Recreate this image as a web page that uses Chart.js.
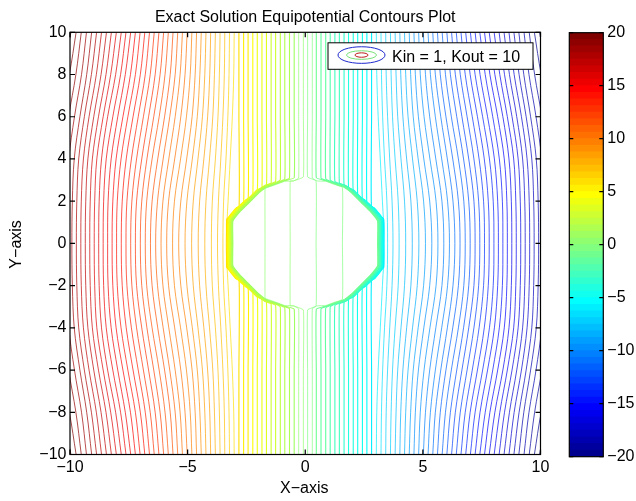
<!DOCTYPE html>
<html>
<head>
<meta charset="utf-8">
<script src="https://cdn.jsdelivr.net/npm/chart.js"></script>
<style>
  body { margin: 0; background: #fff; }
  #wrap { position: relative; width: 636px; height: 501px; }
  #wrap canvas { position: absolute; top: 0; }
</style>
</head>
<body>
<div id="wrap">
  <canvas id="contourChart" width="636" height="501" style="left:0"></canvas>
  <canvas id="colorbar" width="96" height="501" style="left:540px"></canvas>
</div>
<script>
// Contour lines that stay outside the inclusion, left half (the right half mirrors it).
const outerY = [10, 8, 6, 4, 2, 0];
const outerLevels = [19.8, 19.4, 19.0, 18.6, 18.2, 17.8, 17.4, 17.0, 16.6, 16.2, 15.8, 15.4, 15.0, 14.6, 14.2, 13.8, 13.4, 13.0, 12.6, 12.2, 11.8, 11.4, 11.0, 10.6, 10.2, 9.8, 9.4, 9.0, 8.6, 8.2, 7.8, 7.4, 7.0, 6.6, 6.2];
const outerX10 = [-9.96, -9.74, -9.52, -9.30, -9.08, -8.87, -8.66, -8.45, -8.24, -8.03, -7.82, -7.62, -7.42, -7.22, -7.02, -6.82, -6.62, -6.42, -6.22, -6.02, -5.82, -5.62, -5.42, -5.22, -5.02, -4.82, -4.62, -4.42, -4.22, -4.02, -3.82, -3.62, -3.42, -3.22, -3.02];
const outerX8 = [-10.30, -10.03, -9.75, -9.51, -9.29, -9.09, -8.88, -8.68, -8.47, -8.27, -8.06, -7.85, -7.65, -7.43, -7.22, -7.01, -6.80, -6.59, -6.38, -6.17, -5.96, -5.74, -5.53, -5.32, -5.11, -4.89, -4.68, -4.48, -4.27, -4.06, -3.86, -3.65, -3.44, -3.24, -3.04];
const outerX6 = [-10.70, -10.44, -10.06, -9.81, -9.58, -9.39, -9.19, -8.99, -8.79, -8.59, -8.40, -8.18, -7.97, -7.75, -7.54, -7.32, -7.10, -6.88, -6.66, -6.44, -6.21, -5.98, -5.76, -5.53, -5.29, -5.05, -4.81, -4.59, -4.37, -4.15, -3.93, -3.71, -3.50, -3.29, -3.10];
const outerX4 = [-11.00, -10.76, -10.31, -10.05, -9.82, -9.63, -9.43, -9.24, -9.05, -8.86, -8.66, -8.46, -8.25, -8.04, -7.83, -7.61, -7.39, -7.17, -6.95, -6.73, -6.51, -6.27, -6.04, -5.80, -5.55, -5.30, -5.04, -4.80, -4.56, -4.31, -4.07, -3.82, -3.59, -3.37, -3.19];
const outerX2 = [-11.10, -10.88, -10.40, -10.13, -9.90, -9.71, -9.52, -9.33, -9.14, -8.95, -8.76, -8.57, -8.38, -8.18, -7.99, -7.78, -7.58, -7.37, -7.17, -6.95, -6.74, -6.51, -6.28, -6.05, -5.81, -5.56, -5.29, -5.03, -4.76, -4.49, -4.22, -3.95, -3.69, -3.47, -3.28];
const outerX0 = [-11.10, -10.90, -10.42, -10.15, -9.92, -9.73, -9.54, -9.35, -9.16, -8.97, -8.78, -8.59, -8.40, -8.21, -8.02, -7.82, -7.62, -7.42, -7.22, -7.01, -6.80, -6.58, -6.36, -6.13, -5.89, -5.64, -5.38, -5.11, -4.83, -4.55, -4.27, -3.99, -3.73, -3.50, -3.36];

// Jagged edge of the inclusion, upper-left quarter, from the top down to y = 0
const rimX = [0, -0.50, -0.88, -1.22, -1.65, -1.94, -2.36, -2.72, -3.05, -3.05];
const rimY = [3.00, 2.96, 2.94, 2.80, 2.63, 2.39, 1.92, 1.53, 1.05, 0];

// Lines that come down from the top and then run along the rim (left half, mirrored on the right)
const hugLevels = [5.8, 5.4, 5.0, 4.6, 4.2, 3.8, 3.4, 3.0, 2.6, 2.2, 1.8, 1.4, 1.0];
const hugTopX = [-2.82, -2.62, -2.43, -2.23, -2.04, -1.84, -1.65, -1.45, -1.26, -1.06, -0.87, -0.67, -0.47];
const hugMeetY = [1.62, 1.87, 2.07, 2.27, 2.47, 2.64, 2.79, 2.87, 2.94, 3.01, 3.06, 3.09, 3.11];
const hugGap = [0.28, 0.26, 0.24, 0.22, 0.20, 0.18, 0.155, 0.13, 0.11, 0.09, 0.065, 0.045, 0.025];

// The four lines that cross the inside of the inclusion
const innerLevels = [0.6, 0.2, -0.2, -0.6];
const innerTopX = [-0.28, -0.08, 0.10, 0.30];
const innerMeetY = [3.10, 3.15, 3.15, 3.10];
const innerX = [-1.71, -0.64, 0.46, 1.58];
const innerRimY = [2.60, 2.95, 2.96, 2.65];

// colour axis
const cMin = -20, cMax = 20, cSteps = 64;
const xTicksStep = 5, yTicksStep = 2, cTicksStep = 5;

const FONT = "'Liberation Sans', Arial, Helvetica, sans-serif";
const minus = v => (v < 0 ? '\u2212' + Math.abs(v) : '' + v);

// MATLAB jet(64)
function jetPart(j) {
  if (j < 1 || j > 47) return 0;
  if (j <= 16) return j / 16;
  if (j <= 31) return 1;
  return (48 - j) / 16;
}
function jetColor(k) {
  const c = [jetPart(k - 24), jetPart(k - 8), jetPart(k + 8)].map(v => Math.round(v * 255));
  return 'rgb(' + c.join(',') + ')';
}
function levelColor(v) {
  const k = Math.floor((v - cMin) / (cMax - cMin) * cSteps) + 1;
  return jetColor(Math.min(cSteps, Math.max(1, k)));
}

// upper half ends at y = 0, lower half is its mirror
const fullPath = pts => pts.concat(pts.slice(0, -1).reverse().map(p => ({ x: p.x, y: -p.y })));

const datasets = [];
function addLine(level, pts, tension, width) {
  datasets.push({
    data: fullPath(pts),
    borderColor: levelColor(level),
    borderWidth: width,
    pointRadius: 0,
    showLine: true,
    fill: false,
    tension: tension
  });
}

[1, -1].forEach(side => {
  outerLevels.forEach((lv, i) => {
    const xs = [outerX10[i], outerX8[i], outerX6[i], outerX4[i], outerX2[i], outerX0[i]];
    addLine(side * lv, xs.map((x, j) => ({ x: side * x, y: outerY[j] })), 0.35, 0.7);
  });
});

// inner lines first, so the outer lines of the rim band end up on top
innerLevels.forEach((lv, i) => {
  const s = innerX[i] < 0 ? 1 : -1;   // rim is stored for the left side
  const x0 = innerTopX[i], xi = innerX[i];
  const pts = [{ x: x0, y: 10 }, { x: x0, y: 6 }, { x: x0, y: innerMeetY[i] }];
  rimX.forEach((rx, j) => {
    const mx = s * rx;
    if (Math.abs(mx) > Math.abs(x0) + 0.08 && Math.abs(mx) < Math.abs(xi) - 0.03) pts.push({ x: mx, y: rimY[j] });
  });
  pts.push({ x: xi, y: innerRimY[i] }, { x: xi, y: 0 });
  addLine(lv, pts, 0.1, 0.7);
});

[1, -1].forEach(side => {
  for (let i = hugLevels.length - 1; i >= 0; i--) {
    const x0 = hugTopX[i], f = 1 + hugGap[i] / 3;
    const pts = [{ x: x0, y: 10 }, { x: x0, y: 6 }, { x: x0, y: hugMeetY[i] }];
    rimX.forEach((rx, j) => {
      if (rx < x0 - 0.08) pts.push({ x: rx * f, y: rimY[j] * f });
    });
    addLine(side * hugLevels[i], pts.map(p => ({ x: side * p.x, y: p.y })), 0.1, 1.1);
  }
});

// frame with inward tick marks on all sides
function drawFrame(chart, tickLen) {
  const { ctx, chartArea: a, scales } = chart;
  ctx.save();
  ctx.strokeStyle = '#000';
  ctx.lineWidth = 1.2;
  ctx.strokeRect(a.left, a.top, a.right - a.left, a.bottom - a.top);
  ctx.beginPath();
  if (scales.x && scales.x.options.display) {
    scales.x.ticks.forEach(t => {
      const px = scales.x.getPixelForValue(t.value);
      ctx.moveTo(px, a.bottom); ctx.lineTo(px, a.bottom - tickLen);
      ctx.moveTo(px, a.top); ctx.lineTo(px, a.top + tickLen);
    });
  }
  scales.y.ticks.forEach(t => {
    const py = scales.y.getPixelForValue(t.value);
    ctx.moveTo(a.left, py); ctx.lineTo(a.left + tickLen, py);
    ctx.moveTo(a.right, py); ctx.lineTo(a.right - tickLen, py);
  });
  ctx.stroke();
  ctx.restore();
}

const mainDecor = {
  id: 'mainDecor',
  afterDraw(chart) {
    drawFrame(chart, 5);
    const { ctx, chartArea: a } = chart;
    ctx.save();
    ctx.fillStyle = '#000';
    ctx.font = '16px ' + FONT;
    ctx.textAlign = 'center';
    ctx.textBaseline = 'alphabetic';
    const mid = (a.left + a.right) / 2;
    ctx.fillText('Exact Solution Equipotential Contours Plot', mid, a.top - 10.6);
    ctx.fillText('X\u2212axis', mid - 1, a.bottom + 38);
    ctx.save();
    ctx.translate(21, (a.top + a.bottom) / 2 + 1);
    ctx.rotate(-Math.PI / 2);
    ctx.fillText('Y\u2212axis', 0, 0);
    ctx.restore();

    // legend box
    const bw = 205, bh = 26.5;
    const bx = a.right - 212.5, by = a.top + 10.5;
    ctx.fillStyle = '#fff';
    ctx.fillRect(bx, by, bw, bh);
    ctx.strokeStyle = '#000';
    ctx.lineWidth = 1;
    ctx.strokeRect(bx, by, bw, bh);
    const cx = bx + 33.5, cy = by + bh / 2 - 1;
    [[23.5, 8.3, 'rgb(30,40,205)'], [15, 4.3, 'rgb(120,225,120)'], [6.5, 2.2, 'rgb(190,30,30)']].forEach(e => {
      ctx.beginPath();
      ctx.ellipse(cx, cy, e[0], e[1], 0, 0, Math.PI * 2);
      ctx.strokeStyle = e[2];
      ctx.stroke();
    });
    ctx.fillStyle = '#000';
    ctx.textAlign = 'left';
    ctx.fillText('Kin = 1, Kout = 10', bx + 64, by + 18.7);
    ctx.restore();
  }
};

const tickFont = { family: FONT, size: 16 };
const noGrid = { display: false, drawTicks: false };

new Chart(document.getElementById('contourChart'), {
  type: 'scatter',
  data: { datasets: datasets },
  options: {
    responsive: false,
    animation: false,
    devicePixelRatio: 1,
    events: [],
    layout: { padding: { left: 0, right: 95.5, top: 32.3, bottom: 0 } },
    plugins: { legend: { display: false }, tooltip: { enabled: false }, title: { display: false } },
    scales: {
      x: {
        type: 'linear', min: -10, max: 10,
        grid: noGrid, border: { display: false },
        ticks: { stepSize: xTicksStep, color: '#000', font: tickFont, padding: 3, maxRotation: 0, callback: minus },
        afterFit: s => { s.height = 46.5; }
      },
      y: {
        type: 'linear', min: -10, max: 10,
        grid: noGrid, border: { display: false },
        ticks: { stepSize: yTicksStep, color: '#000', font: tickFont, padding: 3.5, callback: minus },
        afterFit: s => { s.width = 70; }
      }
    }
  },
  plugins: [mainDecor]
});

// colour bar: one floating bar per colormap step
const barSets = [];
for (let k = 1; k <= cSteps; k++) {
  const lo = cMin + (k - 1) * (cMax - cMin) / cSteps;
  const hi = cMin + k * (cMax - cMin) / cSteps;
  barSets.push({
    data: [[lo, hi]],
    backgroundColor: jetColor(k),
    borderWidth: 0,
    barPercentage: 1,
    categoryPercentage: 1,
    grouped: false
  });
}

new Chart(document.getElementById('colorbar'), {
  type: 'bar',
  data: { labels: [''], datasets: barSets },
  options: {
    responsive: false,
    animation: false,
    devicePixelRatio: 1,
    events: [],
    layout: { padding: { left: 29.3, right: 0, top: 32.7, bottom: 44.3 } },
    plugins: { legend: { display: false }, tooltip: { enabled: false } },
    scales: {
      x: { display: false },
      y: {
        position: 'right', min: cMin, max: cMax,
        grid: noGrid, border: { display: false },
        ticks: { stepSize: cTicksStep, color: '#000', font: tickFont, padding: 4, callback: minus },
        afterFit: s => { s.width = 32.7; }
      }
    }
  },
  plugins: [{ id: 'cbarFrame', afterDraw: chart => drawFrame(chart, 4) }]
});
</script>
</body>
</html>
